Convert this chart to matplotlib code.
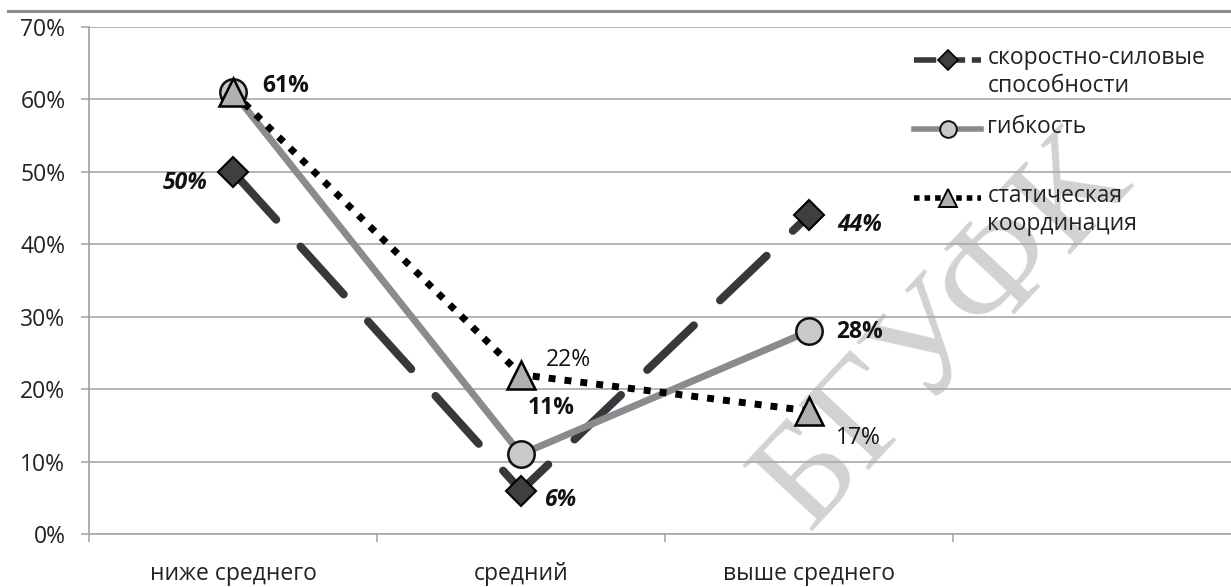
import numpy as np
import matplotlib
matplotlib.use('Agg')
import matplotlib.pyplot as plt
from matplotlib.lines import Line2D
from matplotlib.legend_handler import HandlerLine2D
from matplotlib.ticker import MultipleLocator, FuncFormatter

plt.rcParams['font.family'] = ['Open Sans', 'DejaVu Sans']

# данные
categories = ['ниже среднего', 'средний', 'выше среднего']
speed = [50, 6, 44]      # скоростно-силовые способности
flex = [61, 11, 28]      # гибкость
static = [61, 22, 17]    # статическая координация
names = ['скоростно-силовые\nспособности', 'гибкость\n ', 'статическая\nкоординация']

W, H = 1231, 587
FS = 16.5
fig = plt.figure(figsize=(W / 100, H / 100), dpi=100)
ax = fig.add_axes([89 / W, 53 / H, 1 - 89 / W, 507 / H])

x = np.arange(len(categories))

# линии
ax.plot(x, speed, color='#36393b', lw=5.8, linestyle=(0, (8, 4.5)),
        dash_capstyle='round', marker='D', ms=15.5, mfc='#3f3f3f', mec='black',
        mew=1.5, zorder=4)
ax.plot(x, flex, color='#8b8b8f', lw=5, solid_capstyle='butt', marker='o',
        ms=19, mfc='#c9c9c9', mec='#111111', mew=1.8, zorder=5)
ax.plot(x, static, color='black', lw=5, linestyle=(0, (1, 1.3)),
        dash_capstyle='butt', marker='^', ms=20, mfc='#b0b0b0', mec='black',
        mew=1.8, zorder=6)

# подписи значений (смещения в пикселях)
def put_labels(vals, offs, has, **kw):
    for xi, v, o, ha in zip(x, vals, offs, has):
        if o is None:
            continue
        ax.annotate(f'{v}%', (xi, v), xytext=o, textcoords='offset pixels',
                    ha=ha, va='center', fontsize=FS, color='#111111',
                    zorder=8, **kw)

put_labels(speed, [(-25, -11), (23, -9), (28, -10)], ['right', 'left', 'left'],
           fontweight='bold', fontstyle='italic')
put_labels(flex, [(29, 6), (7, 46), (27, -1)], ['left', 'left', 'left'],
           fontweight='bold')
put_labels(static, [None, (25, 15), (27, -27)], ['left', 'left', 'left'])

# оси
ax.set_ylim(0, 70)
ax.set_xlim(-0.5, -0.5 + (W - 89) / 288)
ax.yaxis.set_major_locator(MultipleLocator(10))
ax.yaxis.set_major_formatter(FuncFormatter(lambda v, p: f'{v:.0f}%'))
ax.grid(axis='y', color='#a8a8a8', lw=1.2, zorder=0)
ax.set_axisbelow(True)
for s in ['top', 'right']:
    ax.spines[s].set_visible(False)
ax.spines['left'].set_color('#a0a0a0')
ax.spines['bottom'].set_color('#a8a8a8')
ax.spines['left'].set_linewidth(1.2)
ax.spines['bottom'].set_linewidth(1.2)
ax.tick_params(axis='y', length=6, width=1.1, color='#a0a0a0', pad=11,
               labelsize=FS, labelcolor='#222222')
ax.set_xticks(x)
ax.set_xticklabels(categories)
ax.set_xticks(np.arange(-0.5, 3.0, 1), minor=True)
ax.tick_params(axis='x', which='major', length=0, pad=20, labelsize=FS,
               labelcolor='#222222')
ax.tick_params(axis='x', which='minor', length=6, width=1.1, color='#a0a0a0')

# верхняя линия
fig.add_artist(Line2D([8 / W, 1], [1 - 11 / H] * 2, color='#8c8c8c', lw=2.2))

# водяной знак (под сеткой и подписями)
ax.text(945 / W, 1 - 333 / H, 'БГУФК', transform=fig.transFigure,
        rotation=47, fontsize=106, family='Liberation Serif', color='#d2d2d2',
        ha='center', va='center', rotation_mode='anchor', zorder=0.2,
        clip_on=False)


# легенда: маркер на уровне первой строки
class FirstLine(HandlerLine2D):
    def __init__(self, shift, **kw):
        super().__init__(**kw)
        self.shift = shift

    def create_artists(self, legend, orig_handle, xdescent, ydescent, width,
                       height, fontsize, trans):
        arts = super().create_artists(legend, orig_handle, xdescent, ydescent,
                                      width, height, fontsize, trans)
        for a in arts:
            a.set_ydata(np.asarray(a.get_ydata(), float) + self.shift)
        return arts


handles = [
    Line2D([], [], color='#36393b', lw=4, linestyle=(0, (4, 1.2)),
           marker='D', ms=10, mfc='#3f3f3f', mec='black', mew=1.2),
    Line2D([], [], color='#8b8b8f', lw=4, marker='o', ms=12, mfc='#c9c9c9',
           mec='#111111', mew=1.4),
    Line2D([], [], color='black', lw=4, linestyle=(0, (1, 0.9)),
           marker='^', ms=13, mfc='#b0b0b0', mec='black', mew=1.4),
]
h = FirstLine(9.5)
leg = ax.legend(handles, names, loc='upper left',
                bbox_to_anchor=(903 / W, 1 - 35 / H),
                bbox_transform=fig.transFigure, frameon=False, fontsize=FS,
                handlelength=2.9, handletextpad=0.28, labelspacing=0.75,
                borderpad=0, numpoints=1, handler_map={l: h for l in handles})
for t in leg.get_texts():
    t.set_color('#222222')
leg.set_zorder(10)

fig.savefig('out.png', dpi=100)
